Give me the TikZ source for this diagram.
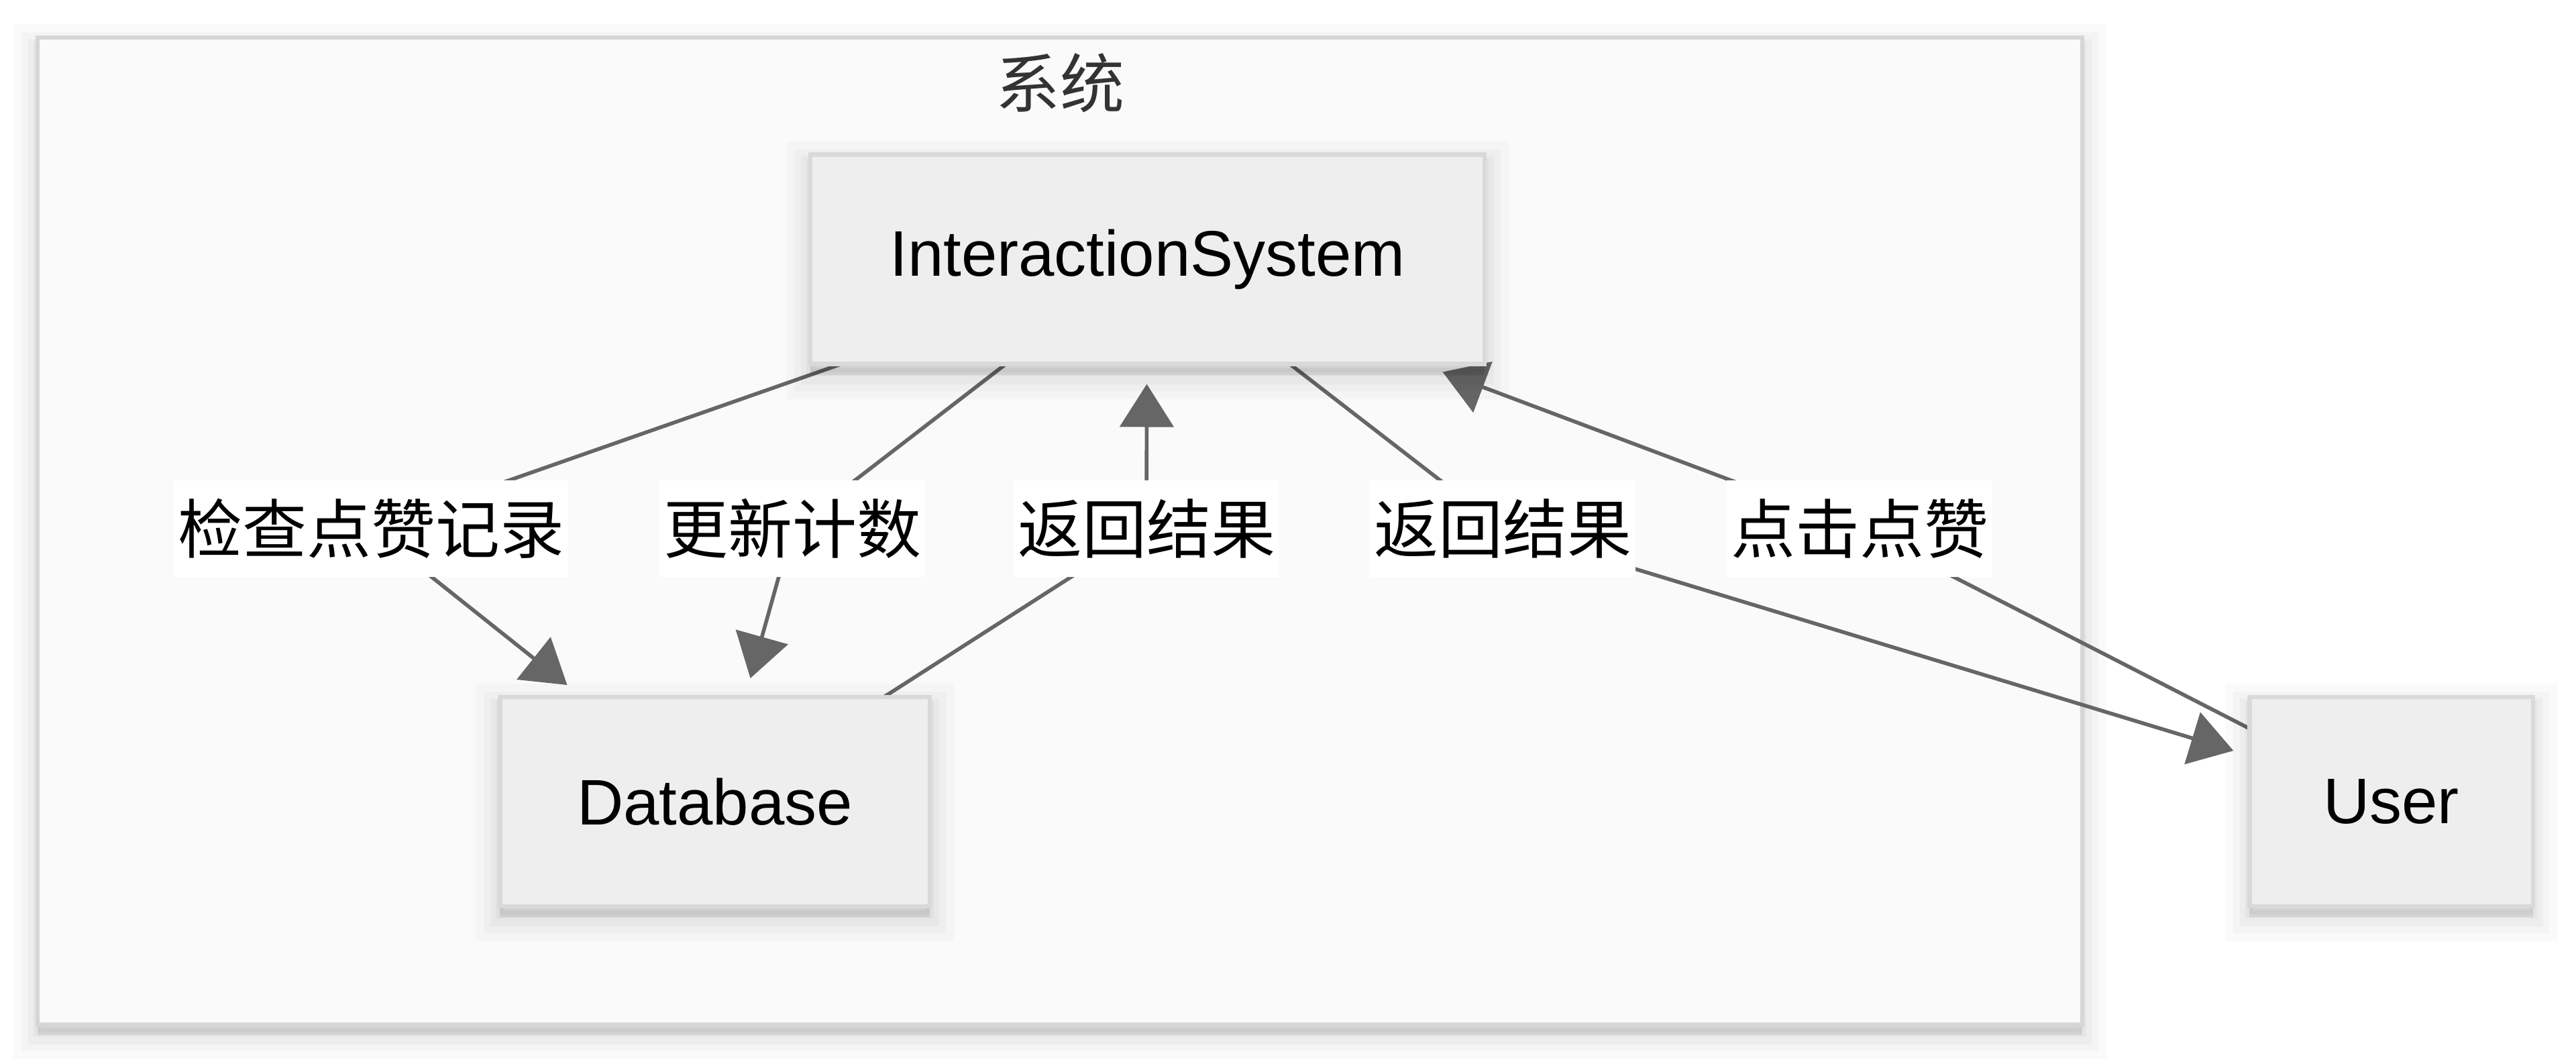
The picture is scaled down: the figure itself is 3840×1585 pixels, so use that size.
\documentclass[tikz,border=0pt]{standalone}
\usepackage{fontspec}
\setmainfont{Liberation Sans}
\newfontfamily\cjk{Noto Sans CJK SC}
\usetikzlibrary{arrows.meta,calc,shadows}
\definecolor{nodefill}{HTML}{EEEEEE}
\definecolor{nodeline}{HTML}{D9D9D9}
\definecolor{clusterfill}{HTML}{FAFAFA}
\definecolor{clusterline}{HTML}{D6D6D6}
\definecolor{edgecol}{HTML}{666666}
\definecolor{titlecol}{HTML}{333333}
\pgfdeclarelayer{bg}
\pgfdeclarelayer{edgelayer}
\pgfsetlayers{bg,edgelayer,main}
\tikzset{
  softshadow/.style={
    general shadow={draw=black, fill=black, opacity=0.018, line width=18pt, shadow yshift=-4pt},
    general shadow={draw=black, fill=black, opacity=0.022, line width=12pt, shadow yshift=-4pt},
    general shadow={draw=black, fill=black, opacity=0.026, line width=7pt, shadow yshift=-4pt},
    general shadow={draw=black, fill=black, opacity=0.03, line width=3pt, shadow yshift=-3pt}},
  box/.style={rectangle, draw=nodeline, fill=nodefill, line width=1.6pt, outer sep=0pt,
    minimum height=78pt, inner sep=0pt, font=\fontsize{24}{28}\selectfont, text=black, softshadow},
  clusterbox/.style={rectangle, draw=clusterline, fill=clusterfill, line width=1.7pt, outer sep=0pt,
    inner sep=0pt, softshadow},
  elabel/.style={rectangle, fill=white, inner xsep=1.5pt, inner ysep=0pt, minimum height=36pt,
    font=\cjk\fontsize{24}{28}\selectfont, text=black},
  edge/.style={draw=edgecol, line width=1.4pt, -{Triangle[length=16pt,width=20pt]}},
}
\begin{document}
\begin{tikzpicture}[x=0.25pt, y=-0.25pt]
\useasboundingbox (0,0) rectangle (3840,1585);

\begin{pgfonlayer}{bg}
\fill[white] (0,0) rectangle (3840,1585);
\node[clusterbox, minimum width=762pt, minimum height=367.8pt] (sys) at (1580,791.5) {};
\end{pgfonlayer}
\node[font=\cjk\fontsize{24}{28}\selectfont, text=titlecol] (systitle) at (1580,124) {系统};

\node[box, minimum width=251.2pt] (is) at (1710.5,386.5) {InteractionSystem};
\node[box, minimum width=160.1pt] (db) at (1065.5,1195) {Database};
\node[box, minimum width=105.6pt] (user) at (3564.5,1195) {User};

\node[elabel] (l1) at (553,788) {检查点赞记录};
\node[elabel] (l2) at (1181,788) {更新计数};
\node[elabel] (l3) at (1709,788) {返回结果};
\node[elabel] (l4) at (2240,788) {返回结果};
\node[elabel] (l5) at (2772,788) {点击点赞};

\begin{pgfonlayer}{edgelayer}
\draw[edge] ($(is.south)+(-456,0)$) -- (l1.center) -- ($(db.north)+(-220,-18)$);
\draw[edge] ($(is.south)+(-211,0)$) -- (l2.center) -- ($(db.north)+(53,-28)$);
\draw[edge] ($(db.north)+(252,0)$) -- (l3.center) -- ($(is.south)+(-1,30)$);
\draw[edge] ($(is.south)+(212,0)$) -- (l4.center) -- ($(user.west)+(-24,-76)$);
\draw[edge] ($(user.west)+(0,-109)$) -- (l5.center) -- ($(is.south)+(440,12)$);
\end{pgfonlayer}
\end{tikzpicture}
\end{document}
